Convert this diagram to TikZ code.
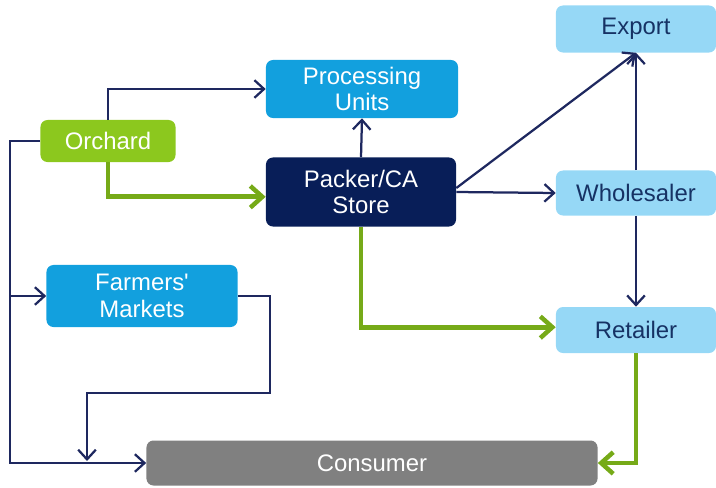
\documentclass[tikz,border=0pt]{standalone}
\usepackage{fontspec}
\setmainfont{Liberation Sans}
\usepackage{tikz}
\usetikzlibrary{arrows.meta,positioning}

\definecolor{navyline}{RGB}{30,40,95}
\definecolor{navybox}{RGB}{8,30,88}
\definecolor{greenline}{RGB}{118,170,24}
\definecolor{greenbox}{RGB}{140,200,30}
\definecolor{bluebox}{RGB}{18,160,222}
\definecolor{lightbox}{RGB}{150,216,246}
\definecolor{lighttext}{RGB}{22,50,100}
\definecolor{greybox}{RGB}{128,128,128}

\tikzset{
  box/.style={rounded corners=5pt, align=center, inner sep=0pt,
    font=\fontsize{17}{19}\selectfont},
  darkbox/.style={box, fill=#1, text=white},
  palebox/.style={box, fill=lightbox, text=lighttext},
  thin arrow/.style={draw=navyline, line width=1.6pt,
    -{Straight Barb[length=2.4mm,width=4.4mm,line width=1.6pt]}},
  thick arrow/.style={draw=greenline, line width=3.4pt,
    -{Straight Barb[length=3mm,width=5.4mm,line width=3.2pt]}}
}

\begin{document}
\begin{tikzpicture}[x=0.025cm, y=-0.025cm]
\path[use as bounding box] (0,0) rectangle (716,487);
\node[darkbox=greenbox, minimum width=3.375cm, minimum height=1.05cm] (orchard) at (108,141) {Orchard};
\node[darkbox=bluebox, minimum width=4.8cm, minimum height=1.45cm] (proc) at (362,89) {Processing\\Units};
\node[darkbox=navybox, minimum width=4.75cm, minimum height=1.725cm] (packer) at (361,192) {Packer/CA\\Store};
\node[palebox, minimum width=4cm, minimum height=1.175cm] (export) at (636,29) {Export};
\node[palebox, minimum width=4cm, minimum height=1.125cm] (wholesaler) at (636,193) {Wholesaler};
\node[palebox, minimum width=4cm, minimum height=1.15cm] (retailer) at (636,330) {Retailer};
\node[darkbox=bluebox, minimum width=4.775cm, minimum height=1.55cm] (markets) at (142,296) {Farmers\textquotesingle\\Markets};
\node[darkbox=greybox, minimum width=11.275cm, minimum height=1.125cm] (consumer) at (372,463) {Consumer};
\coordinate (trunk) at (10,463);
\coordinate (mkbend) at (270,393);
\coordinate (mkdrop) at (87,461);
% orchard outlets
\draw[thin arrow] (orchard.west) -| (trunk) -- (consumer.west);
\draw[thin arrow] (trunk |- markets.west) -- (markets.west);
\draw[thin arrow] (orchard.north) |- (proc.west);
\draw[thick arrow] (orchard.south) |- ([yshift=-0.12cm]packer.west);
\draw[thin arrow] (markets.east) -| (mkbend) -| (mkdrop);
% packer outlets
\draw[thin arrow] (packer.north) -- (proc.south);
\draw[thin arrow] ([yshift=0.1cm]packer.east) -- (export.south);
\draw[thin arrow] (packer.east) -- (wholesaler.west);
\draw[thick arrow] (packer.south) |- ([yshift=0.07cm]retailer.west);
% trade
\draw[thin arrow] (wholesaler.north) -- (export.south);
\draw[thin arrow] (wholesaler.south) -- (retailer.north);
\draw[thick arrow] (retailer.south) |- (consumer.east);
\end{tikzpicture}
\end{document}
